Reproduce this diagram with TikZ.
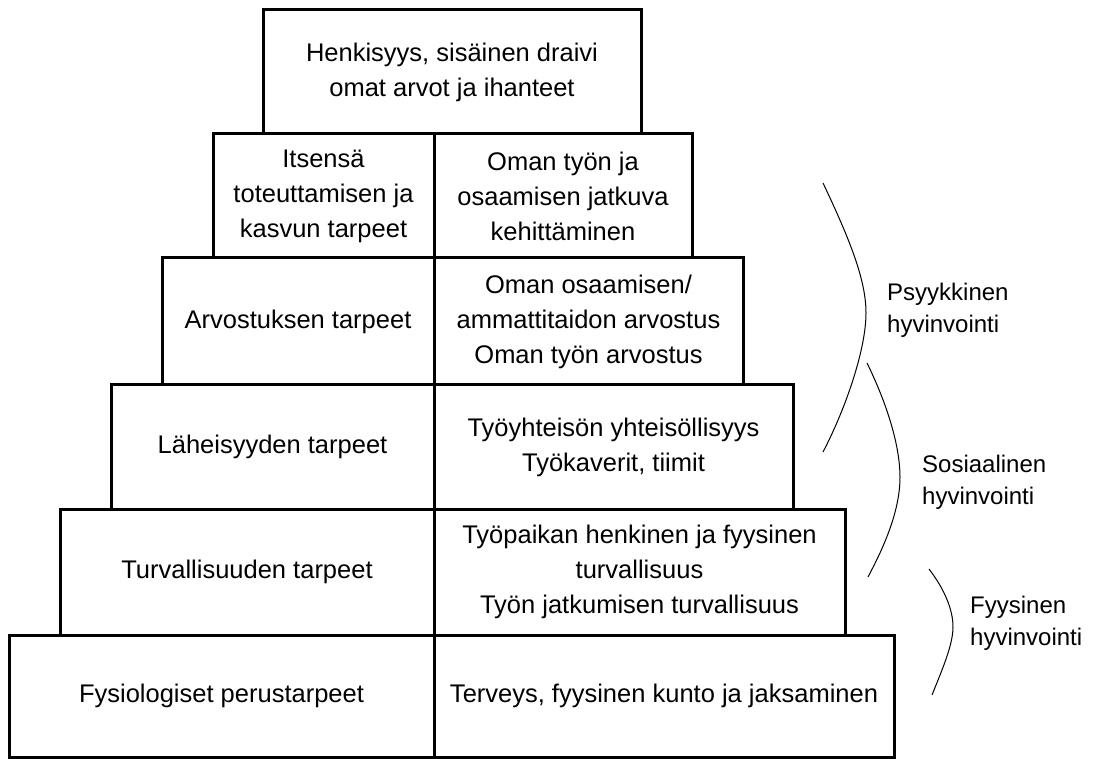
\documentclass[tikz,border=0pt]{standalone}
\usepackage{fontspec}
\setmainfont{Liberation Sans}
\usetikzlibrary{positioning}

\begin{document}
\begin{tikzpicture}[x=1pt,y=-1pt,
    cell/.style={draw, line width=3pt, outer sep=0pt, inner sep=0pt, anchor=north west,
        align=center, font=\fontsize{25.5}{35}\selectfont},
    sidetext/.style={anchor=west, align=left, inner sep=0pt, font=\fontsize{24}{32}\selectfont},
    bracket/.style={line width=1pt}]
        \useasboundingbox (0,0) rectangle (1120,759);
        % the pyramid, top to bottom
        \node[cell, minimum width=378pt, minimum height=124pt] (spirit) at (263,10) {Henkisyys, sisäinen draivi\\omat arvot ja ihanteet};
        \node[cell, minimum width=221pt, minimum height=124pt] (selfL) at (213,134) {Itsensä\\toteuttamisen ja\\kasvun tarpeet};
        \node[cell, right=0pt of selfL, minimum width=258pt, minimum height=124pt] (selfR) {Oman työn ja\\osaamisen jatkuva\\kehittäminen};
        \node[cell, minimum width=272pt, minimum height=127pt] (esteemL) at (162,258) {Arvostuksen tarpeet};
        \node[cell, right=0pt of esteemL, minimum width=309pt, minimum height=127pt] (esteemR) {Oman osaamisen/\\ammattitaidon arvostus\\Oman työn arvostus};
        \node[cell, minimum width=323pt, minimum height=124pt] (loveL) at (111,385) {Läheisyyden tarpeet};
        \node[cell, right=0pt of loveL, minimum width=359pt, minimum height=124pt] (loveR) {Työyhteisön yhteisöllisyys\\Työkaverit, tiimit};
        \node[cell, minimum width=374pt, minimum height=126pt] (safeL) at (60,509) {Turvallisuuden tarpeet};
        \node[cell, right=0pt of safeL, minimum width=411pt, minimum height=126pt] (safeR) {Työpaikan henkinen ja fyysinen\\turvallisuus\\Työn jatkumisen turvallisuus};
        \node[cell, minimum width=425pt, minimum height=122pt] (bodyL) at (9,635) {Fysiologiset perustarpeet};
        \node[cell, right=0pt of bodyL, minimum width=460pt, minimum height=122pt] (bodyR) {Terveys, fyysinen kunto ja jaksaminen};
        % brackets on the right
        \draw[bracket] (823,183) .. controls (850,240) and (866,280) .. (866,313) .. controls (866,350) and (845,410) .. (823,452);
        \draw[bracket] (867,363) .. controls (890,410) and (900,450) .. (900,477) .. controls (900,510) and (885,545) .. (868,577);
        \draw[bracket] (929,569) .. controls (945,590) and (953,610) .. (953,627) .. controls (953,645) and (942,670) .. (932,695);
        \node[sidetext] (psych) at (887,310) {Psyykkinen\\hyvinvointi};
        \node[sidetext] (social) at (922,482) {Sosiaalinen\\hyvinvointi};
        \node[sidetext] (physical) at (970,623) {Fyysinen\\hyvinvointi};
    \end{tikzpicture}
\end{document}
